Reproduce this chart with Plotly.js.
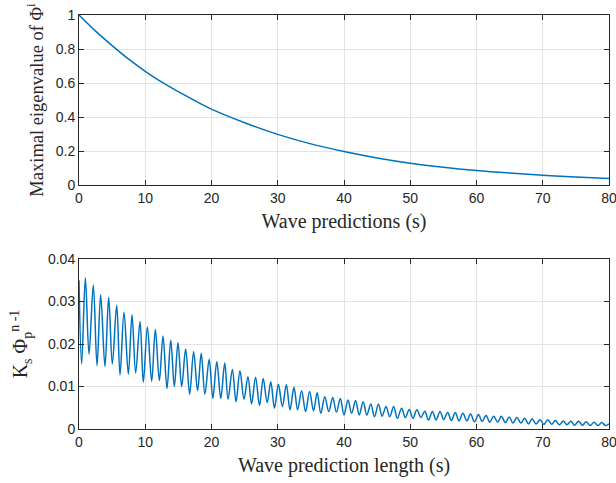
<!DOCTYPE html>
<html>
<head>
<meta charset="utf-8">
<script src="https://cdn.plot.ly/plotly-3.0.1.min.js"></script>
<style>html,body{margin:0;padding:0;background:#fff;}#chart{width:616px;height:483px;}</style>
</head>
<body>
<div id="chart"></div>
<script>
// Top panel: maximal eigenvalue vs wave prediction horizon
var tTop = [0, 2.5, 5, 7.5, 10, 12.5, 15, 17.5, 20, 25, 30, 35, 40, 45, 50, 55, 60, 65, 70, 75, 80];
var eigTop = [1.0, 0.905, 0.82, 0.74, 0.669, 0.605, 0.549, 0.496, 0.446, 0.366, 0.298, 0.242, 0.197, 0.159, 0.128, 0.104, 0.085, 0.07, 0.057, 0.047, 0.038];

// Bottom panel: successive peaks and troughs of K_s Phi_p^(n-1)
var tBot = [0, 0.40, 0.96, 1.51, 2.16, 2.72, 3.27, 3.92, 4.48, 5.03, 5.69, 6.19, 6.79, 7.45, 8.00, 8.55, 9.21, 9.71, 10.32, 10.97,
  11.52, 12.13, 12.68, 13.28, 13.85, 14.39, 14.94, 15.5, 16.1, 16.7, 17.3, 17.9, 18.45, 19.0, 19.65, 20.2, 20.8, 21.4, 22.0, 22.5,
  23.15, 23.7, 24.3, 24.9, 25.5, 26.05, 26.65, 27.25, 27.8, 28.4, 28.95, 29.5, 30.1, 30.7, 31.3, 31.85, 32.45, 33.0, 33.6, 34.2,
  34.8, 35.4, 35.95, 36.5, 37.1, 37.7, 38.3, 38.85, 39.45, 40.0, 40.6, 41.15, 41.75, 42.3, 42.9, 43.45, 44.05, 44.6, 45.2, 45.75,
  46.35, 46.9, 47.5, 48.05, 48.7, 49.25, 49.85, 50.4, 51.0, 51.6, 52.2, 52.75, 53.35, 53.9, 54.5, 55.05, 55.65, 56.2, 56.8, 57.35,
  57.95, 58.55, 59.1, 59.7, 60.3, 60.85, 61.45, 62.0, 62.6, 63.2, 63.75, 64.35, 64.95, 65.5, 66.1, 66.7, 67.25, 67.85, 68.4, 69.0,
  69.6, 70.15, 70.75, 71.35, 71.9, 72.5, 73.1, 73.65, 74.25, 74.8, 75.4, 76.0, 76.55, 77.15, 77.75, 78.3, 78.9, 79.5, 80];
var kBot = [0.035, 0.0153, 0.0356, 0.0176, 0.0339, 0.0149, 0.0316, 0.0147, 0.031, 0.0153, 0.0291, 0.0127, 0.0275, 0.0129, 0.0269, 0.0132, 0.0253, 0.011, 0.024, 0.0112,
  0.0234, 0.0114, 0.0219, 0.0095, 0.0209, 0.0100, 0.0203, 0.0100, 0.0188, 0.0082, 0.0182, 0.009, 0.0178, 0.0082, 0.0164, 0.0072, 0.0158, 0.0072, 0.0155, 0.007,
  0.014, 0.0064, 0.0137, 0.007, 0.0123, 0.0059, 0.0122, 0.0055, 0.0119, 0.0062, 0.0111, 0.0049, 0.0105, 0.0053, 0.0104, 0.0045, 0.0098, 0.0045, 0.009, 0.0041,
  0.0088, 0.0043, 0.0085, 0.0037, 0.0076, 0.0041, 0.0074, 0.004, 0.0072, 0.0033, 0.0068, 0.0037, 0.0067, 0.0033, 0.0064, 0.0033, 0.0059, 0.0029, 0.0059, 0.003,
  0.0053, 0.0029, 0.0053, 0.0025, 0.0049, 0.0027, 0.0046, 0.0025, 0.0045, 0.0027, 0.0042, 0.0021, 0.0041, 0.0021, 0.0041, 0.0022, 0.0039, 0.002, 0.0039, 0.0019,
  0.0037, 0.0019, 0.0035, 0.0017, 0.0034, 0.0018, 0.0032, 0.0016, 0.003, 0.0016, 0.003, 0.0015, 0.0028, 0.0014, 0.0027, 0.0014, 0.0025, 0.0012, 0.0024, 0.0012,
  0.0022, 0.0011, 0.0022, 0.0011, 0.002, 0.001, 0.0019, 0.001, 0.0018, 0.0009, 0.0018, 0.0009, 0.0017, 0.0008, 0.0016, 0.0008, 0.0015, 0.0008, 0.0012];

var xTicks = [0, 10, 20, 30, 40, 50, 60, 70, 80];
var yTopTicks = [0, 0.2, 0.4, 0.6, 0.8, 1];
var yTopLabels = ['0', '0.2', '0.4', '0.6', '0.8', '1'];
var yBotTicks = [0, 0.01, 0.02, 0.03, 0.04];
var yBotLabels = ['0', '0.01', '0.02', '0.03', '0.04'];

var lineColor = '#0072BD';
var axColor = '#262626';
var gridColor = '#e3e3e3';
var tickFont = {family: 'Liberation Sans, Arial, sans-serif', size: 14, color: axColor};
var titleFont = {family: 'Liberation Serif, Times New Roman, serif', size: 20, color: axColor};
var yTitleFont = {family: 'Liberation Serif, Times New Roman, serif', size: 18.5, color: axColor};

function xAxis(anchor, title) {
  return {
    domain: [79/616, 609/616], anchor: anchor, range: [0, 80],
    tickvals: xTicks, ticktext: xTicks.map(String),
    showline: true, mirror: 'ticks', linecolor: axColor, linewidth: 1,
    ticks: 'inside', ticklen: 5, tickcolor: axColor,
    showgrid: true, gridcolor: gridColor, gridwidth: 1, zeroline: false,
    tickfont: tickFont, ticklabeloverflow: 'allow',
    title: {text: title, font: titleFont, standoff: 9},
    automargin: false
  };
}
function yAxis(domain, anchor, range, vals, labels, title, standoff, font) {
  return {
    domain: domain, anchor: anchor, range: range,
    tickvals: vals, ticktext: labels,
    showline: true, mirror: 'ticks', linecolor: axColor, linewidth: 1,
    ticks: 'inside', ticklen: 5, tickcolor: axColor,
    showgrid: true, gridcolor: gridColor, gridwidth: 1, zeroline: false,
    tickfont: tickFont, ticklabeloverflow: 'allow',
    title: {text: title, font: font, standoff: standoff},
    automargin: false
  };
}

var data = [
  {x: tTop, y: eigTop, xaxis: 'x', yaxis: 'y', type: 'scatter', mode: 'lines',
   line: {color: lineColor, width: 1.5, shape: 'spline'}, hoverinfo: 'skip'},
  {x: tBot, y: kBot, xaxis: 'x2', yaxis: 'y2', type: 'scatter', mode: 'lines',
   line: {color: lineColor, width: 1.5, shape: 'spline', smoothing: 1}, hoverinfo: 'skip'}
];

var layout = {
  width: 616, height: 483,
  margin: {l: 0, r: 0, t: 0, b: 0},
  paper_bgcolor: '#ffffff', plot_bgcolor: '#ffffff',
  showlegend: false,
  xaxis: xAxis('y', 'Wave predictions (s)'),
  yaxis: yAxis([1 - 185/483, 1 - 15/483], 'x', [0, 1], yTopTicks, yTopLabels, 'Maximal eigenvalue of Φ<sup>i</sup>', 7, yTitleFont),
  xaxis2: xAxis('y2', 'Wave prediction length (s)'),
  yaxis2: yAxis([1 - 429/483, 1 - 259/483], 'x2', [0, 0.04], yBotTicks, yBotLabels, 'K<sub>s</sub> Φ<sub>p</sub><sup>n -1</sup>', 14, titleFont)
};

Plotly.newPlot('chart', data, layout, {staticPlot: true, displayModeBar: false});
</script>
</body>
</html>
